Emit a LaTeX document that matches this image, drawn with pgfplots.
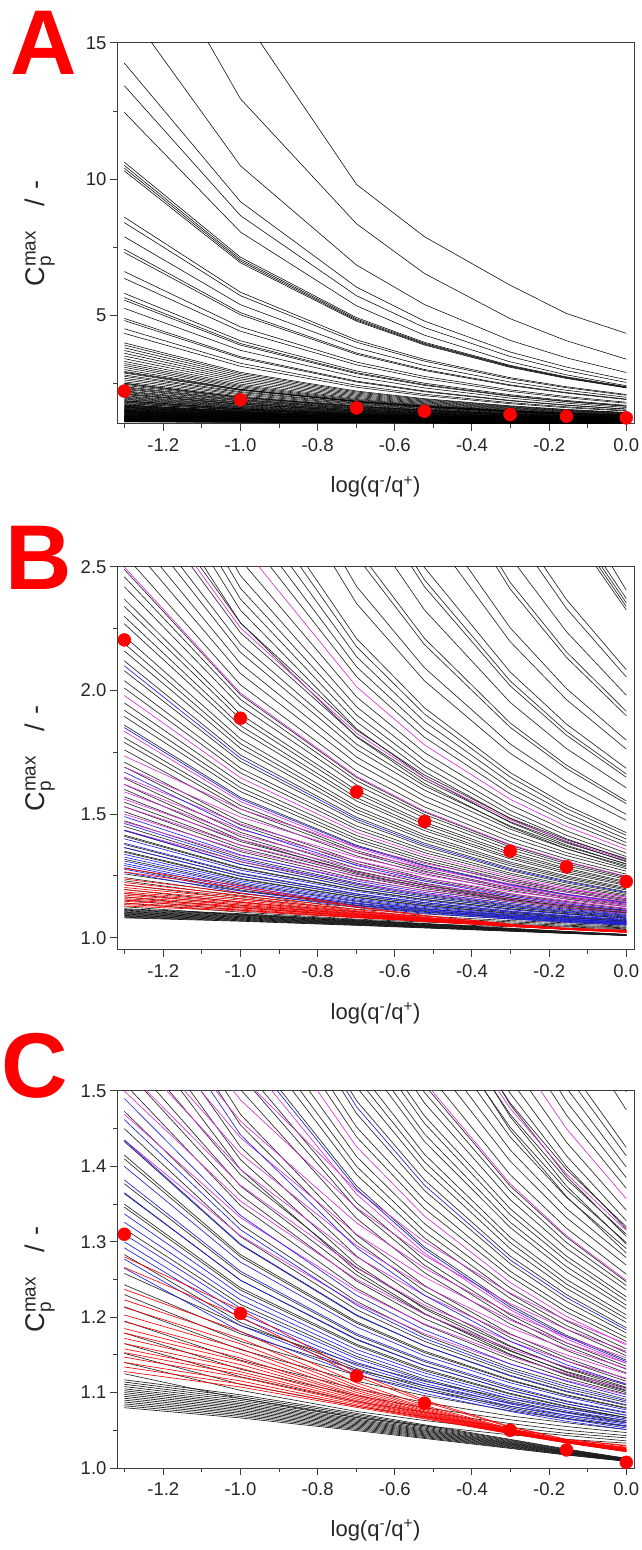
\documentclass[border=0pt]{standalone}
\usepackage{fontspec}
\setmainfont{Liberation Sans}
\usepackage{amsmath}
\usepackage{pgfplots}
\pgfplotsset{compat=1.18}
\definecolor{magline}{RGB}{215,50,215}
\definecolor{blueline}{RGB}{30,30,225}
\definecolor{frame}{RGB}{60,60,60}

\newcommand{\CL}[8]{\addplot[#1] coordinates {(-1.301,#2)(-1,#3)(-0.699,#4)(-0.523,#5)(-0.301,#6)(-0.155,#7)(0,#8)};}

% curves that stay above 1.5 everywhere (not visible in panel C)
\newcommand{\highlines}{%
\CL{gK}{27}{16.1}{9.8}{7.88}{6.1}{5.06}{4.33}
\CL{gK}{20.4}{12.95}{8.353}{6.529}{4.87}{4.059}{3.382}
\CL{gK}{16.4}{10.486}{6.837}{5.389}{4.072}{3.429}{2.891}
\CL{gK}{14.26}{9.168}{6.026}{4.779}{3.645}{3.091}{2.628}
\CL{gK}{13.43}{8.657}{5.711}{4.543}{3.48}{2.96}{2.526}
\CL{gK}{12.45}{8.053}{5.34}{4.263}{3.284}{2.806}{2.406}
\CL{gK}{10.62}{7.128}{4.906}{4.001}{3.155}{2.732}{2.372}
\CL{gK}{10.5}{7.052}{4.857}{3.964}{3.128}{2.71}{2.355}
\CL{gK}{10.4}{6.988}{4.816}{3.933}{3.106}{2.692}{2.34}
\CL{gK}{10.3}{6.924}{4.776}{3.902}{3.083}{2.674}{2.326}
\CL{gK}{8.6}{5.841}{4.086}{3.371}{2.702}{2.368}{2.084}
\CL{gK}{8.4}{5.714}{4.004}{3.309}{2.658}{2.332}{2.055}
\CL{gK}{7.88}{5.383}{3.793}{3.147}{2.541}{2.238}{1.981}
\CL{gK}{7.42}{5.09}{3.607}{3.003}{2.438}{2.156}{1.916}
\CL{gK}{7.3}{5.013}{3.558}{2.966}{2.411}{2.134}{1.898}
\CL{gK}{6.6}{4.567}{3.274}{2.747}{2.254}{2.008}{1.799}
\CL{gK}{6.35}{4.408}{3.172}{2.669}{2.198}{1.963}{1.763}
\CL{gK}{5.8}{4.058}{2.949}{2.498}{2.075}{1.864}{1.685}
\CL{gK}{5.64}{3.956}{2.884}{2.448}{2.039}{1.835}{1.662}
\CL{gK}{5.55}{3.898}{2.847}{2.42}{2.019}{1.819}{1.649}
\CL{gK}{5.25}{3.707}{2.726}{2.326}{1.952}{1.765}{1.606}
\CL{gK}{4.88}{3.472}{2.575}{2.211}{1.869}{1.698}{1.553}
\CL{gK}{4.8}{3.421}{2.543}{2.186}{1.851}{1.684}{1.542}
}

\newcommand{\lowlines}{%
\CL{gK}{4.5}{3.23}{2.421}{2.092}{1.784}{1.63}{1.499}
\CL{gK}{4.33}{3.121}{2.352}{2.039}{1.746}{1.599}{1.475}
\CL{gK}{3.98}{2.898}{2.21}{1.93}{1.668}{1.536}{1.425}
\CL{gK}{3.9}{2.847}{2.177}{1.905}{1.65}{1.522}{1.414}
\CL{gK}{3.8}{2.784}{2.137}{1.874}{1.627}{1.504}{1.399}
\CL{gK}{3.7}{2.72}{2.096}{1.842}{1.605}{1.486}{1.385}
\CL{gK}{3.6}{2.656}{2.056}{1.811}{1.582}{1.468}{1.371}
\CL{gK}{3.4}{2.529}{1.974}{1.749}{1.538}{1.432}{1.342}
\CL{gK}{3.3}{2.465}{1.934}{1.718}{1.515}{1.414}{1.328}
\CL{gK}{3.22}{2.414}{1.901}{1.693}{1.497}{1.4}{1.317}
\CL{gK}{3.15}{2.37}{1.873}{1.671}{1.482}{1.387}{1.307}
\CL{gK}{3.08}{2.325}{1.845}{1.649}{1.466}{1.374}{1.297}
\CL{gK}{3.0}{2.274}{1.812}{1.624}{1.448}{1.36}{1.285}
\CL{gK}{2.93}{2.274}{1.84}{1.658}{1.484}{1.396}{1.32}
\CL{gK}{2.87}{2.234}{1.814}{1.638}{1.469}{1.383}{1.31}
\CL{gK}{2.8}{2.188}{1.783}{1.614}{1.452}{1.369}{1.299}
\CL{gK}{2.75}{2.155}{1.761}{1.597}{1.439}{1.359}{1.291}
\CL{gK}{2.68}{2.109}{1.731}{1.573}{1.422}{1.344}{1.279}
\CL{gK}{2.62}{2.069}{1.705}{1.552}{1.407}{1.332}{1.269}
\CL{gK}{2.55}{2.023}{1.674}{1.529}{1.389}{1.318}{1.257}
\CL{gK}{2.49}{1.983}{1.648}{1.508}{1.374}{1.306}{1.247}
\CL{gK}{2.46}{1.964}{1.635}{1.498}{1.367}{1.299}{1.242}
\CL{gK}{2.42}{1.937}{1.618}{1.484}{1.356}{1.291}{1.236}
\CL{gK}{2.37}{1.904}{1.596}{1.467}{1.344}{1.281}{1.227}
\CL{gK}{2.34}{1.884}{1.583}{1.457}{1.336}{1.275}{1.222}
\CL{gK}{2.3}{1.858}{1.566}{1.443}{1.326}{1.267}{1.216}
\CL{gK}{2.27}{1.838}{1.553}{1.433}{1.319}{1.26}{1.211}
\CL{gK}{2.22}{1.805}{1.531}{1.416}{1.306}{1.25}{1.203}
\CL{gK}{2.19}{1.785}{1.518}{1.406}{1.299}{1.244}{1.198}
\CL{gK}{2.16}{1.766}{1.505}{1.396}{1.291}{1.238}{1.193}
\CL{gK}{2.12}{1.739}{1.487}{1.382}{1.281}{1.23}{1.186}
\CL{gK}{2.08}{1.713}{1.47}{1.368}{1.271}{1.221}{1.179}
\CL{gK}{2.04}{1.686}{1.452}{1.355}{1.261}{1.213}{1.173}
\CL{gK}{2.01}{1.667}{1.439}{1.344}{1.254}{1.207}{1.168}
\CL{gK}{1.95}{1.627}{1.413}{1.324}{1.239}{1.195}{1.158}
\CL{gK}{1.92}{1.607}{1.4}{1.314}{1.231}{1.189}{1.153}
\CL{gK}{1.895}{1.591}{1.389}{1.305}{1.225}{1.184}{1.149}
\CL{gK}{1.86}{1.568}{1.374}{1.293}{1.216}{1.176}{1.143}
\CL{gK}{1.81}{1.535}{1.352}{1.276}{1.203}{1.166}{1.135}
\CL{gK}{1.79}{1.521}{1.344}{1.269}{1.198}{1.162}{1.131}
\CL{gK}{1.76}{1.502}{1.331}{1.259}{1.191}{1.156}{1.126}
\CL{gK}{1.71}{1.469}{1.309}{1.242}{1.178}{1.146}{1.118}
\CL{gK}{1.69}{1.455}{1.3}{1.235}{1.173}{1.142}{1.115}
\CL{gK}{1.645}{1.426}{1.281}{1.22}{1.162}{1.132}{1.107}
\CL{gK}{1.62}{1.409}{1.27}{1.211}{1.156}{1.127}{1.103}
\CL{gK}{1.6}{1.396}{1.261}{1.205}{1.151}{1.123}{1.1}
\CL{gK}{1.57}{1.389}{1.266}{1.213}{1.161}{1.133}{1.11}
\CL{gK}{1.548}{1.374}{1.256}{1.204}{1.155}{1.128}{1.106}
\CL{gK}{1.53}{1.362}{1.248}{1.198}{1.15}{1.124}{1.102}
\CL{gK}{1.51}{1.348}{1.238}{1.19}{1.144}{1.119}{1.098}
\CL{gK}{1.473}{1.323}{1.221}{1.176}{1.133}{1.111}{1.091}
\CL{gK}{1.45}{1.307}{1.21}{1.168}{1.127}{1.105}{1.087}
\CL{gK}{1.433}{1.296}{1.202}{1.162}{1.122}{1.101}{1.083}
\CL{gK}{1.41}{1.28}{1.192}{1.153}{1.116}{1.096}{1.079}
\CL{gK}{1.377}{1.258}{1.176}{1.141}{1.106}{1.088}{1.073}
\CL{gK}{1.364}{1.249}{1.17}{1.136}{1.103}{1.085}{1.07}
\CL{gK}{1.346}{1.236}{1.162}{1.129}{1.098}{1.081}{1.067}
\CL{gK}{1.317}{1.217}{1.148}{1.118}{1.089}{1.074}{1.061}
\CL{gK}{1.283}{1.193}{1.132}{1.106}{1.08}{1.066}{1.055}
\CL{gK}{1.35}{1.239}{1.164}{1.131}{1.099}{1.082}{1.067}
\CL{gK}{1.415}{1.283}{1.194}{1.155}{1.117}{1.097}{1.08}
% ---- magenta curves
\CL{gM}{1.435}{1.308}{1.218}{1.178}{1.138}{1.116}{1.097}
\CL{gM}{1.469}{1.332}{1.235}{1.191}{1.148}{1.125}{1.105}
\CL{gM}{1.5}{1.354}{1.25}{1.204}{1.158}{1.134}{1.112}
\CL{gM}{1.53}{1.375}{1.265}{1.216}{1.168}{1.142}{1.119}
\CL{gM}{1.56}{1.396}{1.28}{1.229}{1.177}{1.15}{1.125}
\CL{gM}{1.59}{1.417}{1.295}{1.241}{1.186}{1.158}{1.132}
\CL{gM}{1.62}{1.438}{1.31}{1.253}{1.196}{1.166}{1.139}
\CL{gM}{1.65}{1.46}{1.325}{1.265}{1.205}{1.174}{1.146}
\CL{gM}{1.69}{1.488}{1.345}{1.282}{1.218}{1.184}{1.155}
\CL{gM}{1.735}{1.52}{1.368}{1.3}{1.232}{1.196}{1.165}
\CL{gM}{1.835}{1.551}{1.363}{1.285}{1.21}{1.171}{1.139}
\CL{gM}{1.98}{1.647}{1.426}{1.334}{1.246}{1.201}{1.163}
\CL{gM}{2.5}{1.99}{1.653}{1.512}{1.377}{1.308}{1.249}
\CL{gM}{2.9}{2.254}{1.827}{1.648}{1.477}{1.39}{1.315}
\CL{gM}{3.5}{2.593}{2.015}{1.78}{1.56}{1.45}{1.357}
% ---- middle black curves
\CL{gK1}{1.125}{1.092}{1.067}{1.056}{1.044}{1.038}{1.033}
\CL{gK1}{1.14}{1.103}{1.075}{1.063}{1.05}{1.043}{1.036}
\CL{gK1}{1.152}{1.111}{1.082}{1.068}{1.054}{1.046}{1.04}
\CL{gK1}{1.165}{1.121}{1.088}{1.074}{1.059}{1.05}{1.043}
\CL{gK1}{1.179}{1.131}{1.096}{1.08}{1.064}{1.055}{1.047}
\CL{gK1}{1.195}{1.143}{1.105}{1.087}{1.069}{1.06}{1.051}
\CL{gK1}{1.214}{1.157}{1.115}{1.096}{1.076}{1.065}{1.056}
\CL{gK1}{1.23}{1.168}{1.123}{1.103}{1.082}{1.07}{1.06}
\CL{gK1}{1.243}{1.178}{1.13}{1.109}{1.086}{1.074}{1.063}
\CL{gK1}{1.258}{1.189}{1.138}{1.115}{1.092}{1.079}{1.067}
% ---- blue curves
\CL{gB}{1.265}{1.181}{1.124}{1.099}{1.075}{1.062}{1.051}
\CL{gB}{1.277}{1.189}{1.129}{1.103}{1.078}{1.065}{1.053}
\CL{gB}{1.292}{1.199}{1.136}{1.109}{1.082}{1.068}{1.056}
\CL{gB}{1.3}{1.205}{1.14}{1.112}{1.085}{1.07}{1.058}
\CL{gB}{1.31}{1.212}{1.145}{1.116}{1.087}{1.073}{1.06}
\CL{gB}{1.326}{1.223}{1.152}{1.122}{1.092}{1.076}{1.063}
\CL{gB}{1.337}{1.23}{1.157}{1.126}{1.095}{1.079}{1.065}
\CL{gB}{1.365}{1.249}{1.171}{1.136}{1.103}{1.085}{1.07}
\CL{gB}{1.382}{1.261}{1.178}{1.143}{1.108}{1.089}{1.074}
\CL{gB}{1.4}{1.273}{1.187}{1.149}{1.113}{1.094}{1.077}
\CL{gB}{1.435}{1.297}{1.203}{1.162}{1.123}{1.102}{1.084}
\CL{gB}{1.462}{1.316}{1.216}{1.172}{1.13}{1.108}{1.089}
\CL{gB}{1.49}{1.335}{1.229}{1.183}{1.138}{1.115}{1.094}
\CL{gB}{1.67}{1.442}{1.292}{1.229}{1.168}{1.137}{1.111}
\CL{gB}{1.85}{1.561}{1.37}{1.29}{1.213}{1.174}{1.141}
\CL{gB}{2.1}{1.726}{1.479}{1.375}{1.276}{1.226}{1.183}
% ---- lowest black curves
\CL{gK0}{1.08}{1.0664}{1.0496}{1.0392}{1.026}{1.0172}{1.0088}
\CL{gK0}{1.0825}{1.0685}{1.0512}{1.0404}{1.0268}{1.0177}{1.0091}
\CL{gK0}{1.085}{1.0706}{1.0527}{1.0417}{1.0276}{1.0183}{1.0094}
\CL{gK0}{1.0875}{1.0726}{1.0543}{1.0429}{1.0284}{1.0188}{1.0096}
\CL{gK0}{1.09}{1.0747}{1.0558}{1.0441}{1.0293}{1.0194}{1.0099}
\CL{gK0}{1.0925}{1.0768}{1.0574}{1.0453}{1.0301}{1.0199}{1.0102}
\CL{gK0}{1.095}{1.0789}{1.0589}{1.0466}{1.0309}{1.0204}{1.0105}
\CL{gK0}{1.0975}{1.0809}{1.0605}{1.0478}{1.0317}{1.021}{1.0107}
\CL{gK0}{1.1}{1.083}{1.062}{1.049}{1.0325}{1.0215}{1.011}
\CL{gK0}{1.1025}{1.0851}{1.0636}{1.0502}{1.0333}{1.022}{1.0113}
\CL{gK0}{1.105}{1.0872}{1.0651}{1.0515}{1.0341}{1.0226}{1.0116}
\CL{gK0}{1.108}{1.0896}{1.067}{1.0529}{1.0351}{1.0232}{1.0119}
\CL{gK0}{1.111}{1.0921}{1.0688}{1.0544}{1.0361}{1.0239}{1.0122}
\CL{gK0}{1.114}{1.0946}{1.0707}{1.0559}{1.0371}{1.0245}{1.0125}
\CL{gK0}{1.117}{1.0971}{1.0725}{1.0573}{1.038}{1.0252}{1.0129}
% ---- red curves
\CL{gR}{1.128}{1.1074}{1.0804}{1.0653}{1.0455}{1.0333}{1.0215}
\CL{gR}{1.134}{1.1114}{1.0822}{1.0663}{1.0459}{1.0334}{1.0218}
\CL{gR}{1.14}{1.1155}{1.084}{1.0673}{1.0463}{1.0336}{1.0221}
\CL{gR}{1.147}{1.1203}{1.0861}{1.0684}{1.0467}{1.0338}{1.0225}
\CL{gR}{1.153}{1.1242}{1.0879}{1.0694}{1.0471}{1.034}{1.0229}
\CL{gR}{1.158}{1.1277}{1.0894}{1.0702}{1.0474}{1.0342}{1.0231}
\CL{gR}{1.165}{1.1323}{1.0915}{1.0713}{1.0478}{1.0344}{1.0235}
\CL{gR}{1.172}{1.1371}{1.0936}{1.0725}{1.0483}{1.0346}{1.0239}
\CL{gR}{1.179}{1.1419}{1.0957}{1.0736}{1.0487}{1.0348}{1.0243}
\CL{gR}{1.185}{1.1458}{1.0975}{1.0746}{1.0491}{1.035}{1.0247}
\CL{gR}{1.194}{1.152}{1.1002}{1.076}{1.0496}{1.0353}{1.0252}
\CL{gR}{1.203}{1.158}{1.1029}{1.0775}{1.0502}{1.0356}{1.0257}
\CL{gR}{1.213}{1.1647}{1.1059}{1.0791}{1.0508}{1.0359}{1.0262}
\CL{gR}{1.223}{1.1716}{1.1089}{1.0807}{1.0514}{1.0362}{1.0268}
\CL{gR}{1.237}{1.181}{1.1131}{1.083}{1.0523}{1.0367}{1.0276}
\CL{gR}{1.266}{1.2006}{1.1218}{1.0877}{1.0541}{1.0376}{1.0292}
\CL{gR}{1.28}{1.21}{1.126}{1.09}{1.055}{1.038}{1.03}
}

\pgfplotsset{
  panel/.style={
    scale only axis, width=517pt,
    xmin=-1.32, xmax=0.02,
    xtick={-1.2,-1.0,-0.8,-0.6,-0.4,-0.2,0},
    minor xtick={-1.3,-1.1,-0.9,-0.7,-0.5,-0.3,-0.1},
    tick align=outside, tick pos=left,
    major tick length=7pt, minor tick length=4pt,
    /pgf/number format/assume math mode=true,
    x tick label style={/pgf/number format/.cd, fixed, fixed zerofill, precision=1, /tikz/.cd, yshift=-4pt},
    tick label style={font=\fontsize{18.5}{19}\selectfont, text=black!85},
    xlabel style={font=\fontsize{22}{24}\selectfont, text=black!85},
    ylabel style={font=\fontsize{27}{28}\selectfont, text=black!85},
    xlabel={log(q\textsuperscript{-}/q\textsuperscript{+})},
    ylabel={C$_{\text{p}}^{\text{max}}$\hspace{0.9em}/\hspace{0.35em}-},
    xlabel style={at={(axis description cs:0.5,-0.165)}, anchor=center},
    ylabel style={at={(axis description cs:-0.149,0.5)}, anchor=center},
    axis line style={line width=1pt, frame},
    every tick/.append style={line width=1pt, frame},
  },
  allblack/.style={
    gK/.style={black, line width=0.55pt},
    gK0/.style={black, line width=0.55pt},
    gK1/.style={black, line width=0.55pt},
    gR/.style={black, line width=0.55pt},
    gB/.style={black, line width=0.55pt},
    gM/.style={black, line width=0.55pt},
  },
  colored/.style={
    gK/.style={black!85, line width=0.65pt},
    gK0/.style={black!90, line width=0.65pt},
    gK1/.style={black!85, line width=0.65pt},
    gR/.style={red, line width=0.65pt},
    gB/.style={blueline, line width=0.65pt},
    gM/.style={magline, line width=0.65pt},
  },
  dots/.style={only marks, mark=*, mark size=6.5pt, red, mark options={draw=red, fill=red}},
}

\begin{document}
\begin{tikzpicture}
\path[use as bounding box] (0,0) rectangle (641pt,1550pt);

% ---------------- A
\begin{axis}[panel, allblack, at={(117pt,1126pt)}, anchor=south west, height=381pt,
  ymin=1, ymax=15, ytick={5,10,15}, minor ytick={2.5,7.5,12.5}]
\highlines
\lowlines
\addplot[dots] coordinates {(-1.301,2.21)(-1,1.89)(-0.699,1.59)(-0.523,1.47)(-0.301,1.345)(-0.155,1.285)(0,1.225)};
\end{axis}

% ---------------- B
\begin{axis}[panel, colored, at={(117pt,600pt)}, anchor=south west, height=383pt,
  ymin=0.95, ymax=2.5, ytick={1,1.5,2,2.5}, minor ytick={1.25,1.75,2.25},
  y tick label style={/pgf/number format/.cd, fixed, fixed zerofill, precision=1, /tikz/.cd}]
\highlines
\lowlines
\addplot[dots] coordinates {(-1.301,2.205)(-1,1.888)(-0.699,1.59)(-0.523,1.47)(-0.301,1.35)(-0.155,1.287)(0,1.227)};
\end{axis}

% ---------------- C
\begin{axis}[panel, colored, at={(117pt,82pt)}, anchor=south west, height=377pt,
  ymin=1, ymax=1.5, ytick={1,1.1,1.2,1.3,1.4,1.5}, minor ytick={1.05,1.15,1.25,1.35,1.45},
  y tick label style={/pgf/number format/.cd, fixed, fixed zerofill, precision=1, /tikz/.cd}]
\lowlines
\addplot[dots] coordinates {(-1.301,1.31)(-1,1.205)(-0.699,1.122)(-0.523,1.086)(-0.301,1.05)(-0.155,1.024)(0,1.0075)};
\end{axis}

\node[anchor=base west, inner sep=0, text=red, font=\fontsize{92}{92}\selectfont\bfseries] at (10pt,1475pt) {A};
\node[anchor=base west, inner sep=0, text=red, font=\fontsize{92}{92}\selectfont\bfseries] at (5pt,960pt) {B};
\node[anchor=base west, inner sep=0, text=red, font=\fontsize{92}{92}\selectfont\bfseries] at (1.5pt,452pt) {C};
\end{tikzpicture}
\end{document}
